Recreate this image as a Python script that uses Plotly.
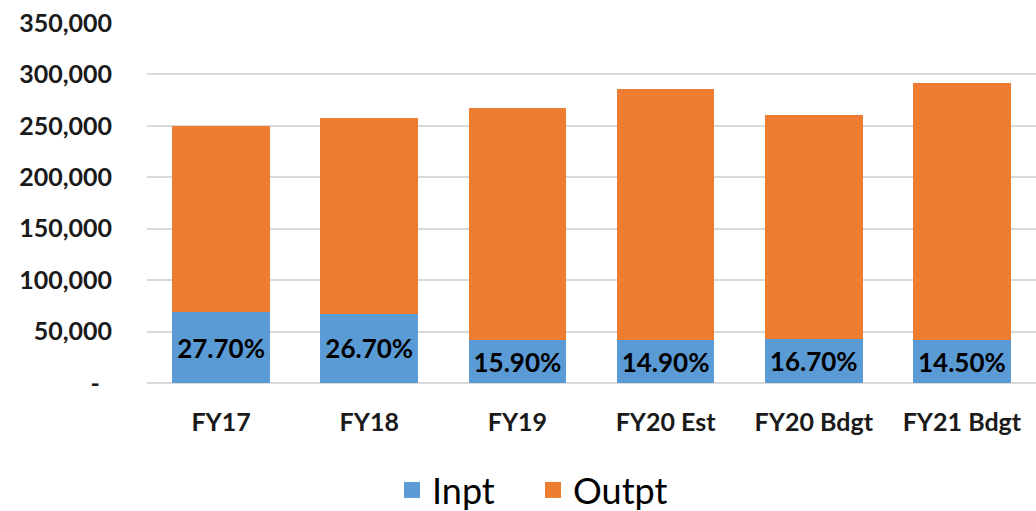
import plotly.graph_objects as go

categories = ["FY17", "FY18", "FY19", "FY20 Est", "FY20 Bdgt", "FY21 Bdgt"]
inpt = [69000, 67500, 41500, 41500, 42500, 41500]
outpt_total = [250000, 257500, 267500, 285500, 261000, 292000]
outpt = [t - i for t, i in zip(outpt_total, inpt)]
pct_labels = ["27.70%", "26.70%", "15.90%", "14.90%", "16.70%", "14.50%"]
ytick_vals = [0, 50000, 100000, 150000, 200000, 250000, 300000, 350000]
ytick_text = ["-\u00a0\u00a0", "50,000", "100,000", "150,000", "200,000", "250,000", "300,000", "350,000"]

BLUE = "#5B9BD5"
ORANGE = "#ED7D31"
FONT = "Lato, 'Open Sans', sans-serif"

fig = go.Figure()
fig.add_trace(go.Bar(
    x=categories, y=inpt, name="Inpt", marker=dict(color=BLUE, line=dict(width=0)),
    text=pct_labels, textposition="inside", insidetextanchor="middle",
    constraintext="none",
    textfont=dict(family=FONT, size=26, color="#000000", weight="bold"),
    showlegend=False,
))
fig.add_trace(go.Bar(
    x=categories, y=outpt, name="Outpt", marker=dict(color=ORANGE, line=dict(width=0)),
    showlegend=False,
))
# legend entries
fig.add_trace(go.Scatter(x=[None], y=[None], mode="markers", name="Inpt",
                         marker=dict(symbol="square", size=20, color=BLUE)))
fig.add_trace(go.Scatter(x=[None], y=[None], mode="markers", name="Outpt",
                         marker=dict(symbol="square", size=20, color=ORANGE)))

fig.update_layout(
    barmode="stack",
    bargap=0.34,
    width=1036, height=511,
    margin=dict(l=147, r=0, t=23, b=128),
    paper_bgcolor="white", plot_bgcolor="white",
    font=dict(family=FONT, color="#1a1a1a"),
    legend=dict(orientation="h", x=0.5145, xanchor="center", y=0.041, yanchor="middle",
                xref="container", yref="container", traceorder="normal",
                font=dict(family=FONT, size=36, color="#000000"),
                itemsizing="trace", entrywidth=96, tracegroupgap=0),
    showlegend=True,
)
fig.update_xaxes(
    type="category", showgrid=False, showline=False, zeroline=False,
    tickfont=dict(family=FONT, size=25, color="#1a1a1a", weight="bold"),
    ticks="", ticklabelstandoff=22,
)
fig.update_yaxes(
    range=[0, 350000], tickvals=ytick_vals, ticktext=ytick_text,
    showgrid=True, gridcolor="#D9D9D9", gridwidth=2,
    zeroline=True, zerolinecolor="#D9D9D9", zerolinewidth=2,
    showline=False, ticks="",
    tickfont=dict(family=FONT, size=25, color="#1a1a1a", weight="bold"),
    ticklabelstandoff=34,
)

fig.write_html("out.html")
